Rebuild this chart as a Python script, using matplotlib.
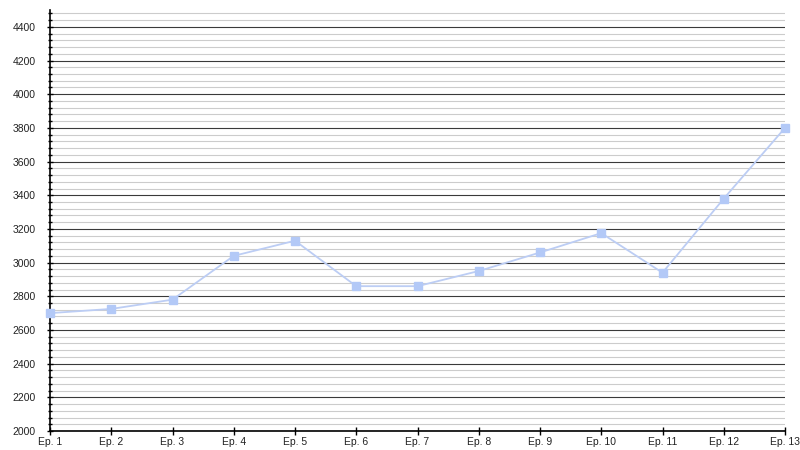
import matplotlib
matplotlib.use("Agg")
import matplotlib.pyplot as plt
from matplotlib.ticker import MultipleLocator

categories = ["Ep. %d" % i for i in range(1, 14)]
values = [2700, 2725, 2780, 3040, 3130, 2860, 2860, 2950, 3060, 3175, 2940, 3380, 3800]

fig = plt.figure(figsize=(8, 4.5), dpi=100)
ax = fig.add_axes([50/800, 1-431/450, 735/800, 421/450])
x = list(range(len(categories)))
ax.plot(x, values, color="#bccdf4", lw=1.3, zorder=3, clip_on=False)
ax.plot(x, values, ls="none", marker=(4, 0, 45), ms=8.5,
        markerfacecolor="#b3c9f7", markeredgecolor="#b3c9f7", zorder=4, clip_on=False)
ax.set_xlim(0, len(categories)-1)
ax.set_ylim(2000, 4500)
ax.set_xticks(x)
ax.set_xticklabels(categories, fontsize=7.5, family="Liberation Sans", color="#222222")
ax.yaxis.set_minor_locator(MultipleLocator(40))
ax.set_yticks(range(2000, 4401, 200))
ax.set_yticklabels([str(v) for v in range(2000, 4401, 200)], fontsize=7.5,
                   family="Liberation Sans", color="#222222")
ax.grid(which="minor", axis="y", color="#cccccc", lw=0.8)
ax.grid(which="major", axis="y", color="#3a3a3a", lw=0.8)
ax.tick_params(axis="y", which="major", length=5, width=1, direction="inout", pad=8)
ax.tick_params(axis="y", which="minor", length=3, width=1, direction="inout")
ax.tick_params(axis="x", which="major", length=6, width=1, direction="inout", pad=1)
for s in ["top", "right"]:
    ax.spines[s].set_visible(False)
ax.spines["left"].set_linewidth(1.2)
ax.spines["bottom"].set_linewidth(1.2)
ax.set_axisbelow(True)
fig.savefig("out.png", dpi=100)
